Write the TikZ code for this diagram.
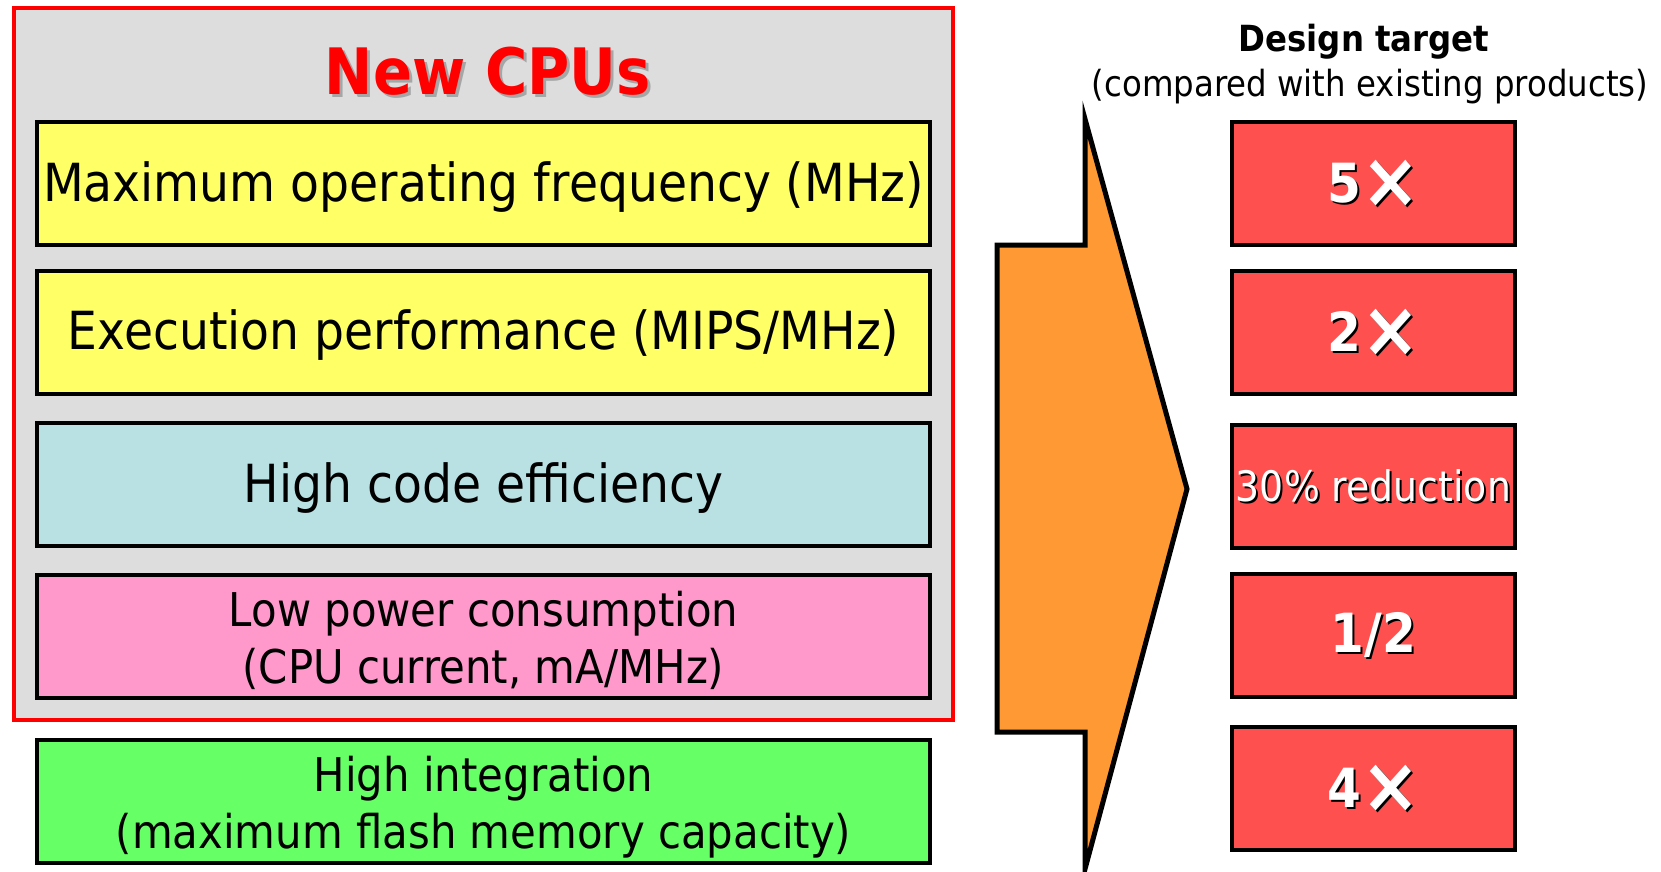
\documentclass[tikz,border=0pt]{standalone}
\usepackage{fontspec}
\setmainfont{DejaVu Sans}[FakeStretch=0.9]
\definecolor{cyel}{HTML}{FFFF66}
\definecolor{cblu}{HTML}{B9E1E3}
\definecolor{cpnk}{HTML}{FF99CC}
\definecolor{cgrn}{HTML}{66FF66}
\definecolor{cred}{HTML}{FF5050}
\definecolor{cgry}{HTML}{DDDDDD}
\definecolor{corg}{HTML}{FF9933}
\newcommand\bigx{\raisebox{-5pt}{\fontsize{78}{78}\selectfont ×}}
\tikzset{
  featbox/.style={draw=black, line width=4pt, minimum width=893pt, minimum height=123pt, inner sep=0pt},
  feattext/.style={align=center, inner sep=0pt, font=\fontsize{52.5}{58}\selectfont},
  feattwo/.style={align=center, inner sep=0pt, font=\fontsize{46.5}{57}\selectfont},
  tgtbox/.style={draw=black, line width=4pt, fill=cred, minimum width=283pt, minimum height=123pt, inner sep=0pt},
  tgttext/.style={font=\bfseries\fontsize{54}{60}\selectfont, inner sep=0pt},
  tgtsmall/.style={font=\fontsize{42}{48}\selectfont, inner sep=0pt},
}
\begin{document}
\begin{tikzpicture}[x=1pt,y=-1pt]
\useasboundingbox (0,0) rectangle (1661,871);
% outer frame
\node[draw=red, line width=4pt, fill=cgry, minimum width=939pt, minimum height=712pt, inner sep=0pt] (frame) at (483.5,364) {};
\node[text=gray!70, font=\bfseries\fontsize{64}{76}\selectfont] (titlesh) at (491,74) {New CPUs};
\node[text=red, font=\bfseries\fontsize{64}{76}\selectfont] (title) at (488,71) {New CPUs};
% feature boxes
\node[featbox, fill=cyel] (f1) at (483.5,183.5) {};
\node[featbox, fill=cyel] (f2) at (483.5,332.5) {};
\node[featbox, fill=cblu] (f3) at (483.5,484) {};
\node[featbox, fill=cpnk] (f4) at (483.5,636.5) {};
\node[featbox, fill=cgrn] (f5) at (483.5,801) {};
\node[feattext] (f1t) at ([yshift=-4pt]f1.center) {Maximum operating frequency (MHz)};
\node[feattext] (f2t) at ([yshift=-3pt]f2.center) {Execution performance (MIPS/MHz)};
\node[feattext] (f3t) at ([yshift=-4pt]f3.center) {High code efficiency};
\node[feattwo] (f4t) at ([yshift=-4pt]f4.center) {Low power consumption\\(CPU current, mA/MHz)};
\node[feattwo] (f5t) at ([yshift=-6pt]f5.center) {High integration\\(maximum flash memory capacity)};
% arrow
\draw[line width=5pt, fill=corg, line join=miter] (997,245) -- (1085,245) -- (1085,119) -- (1187,489) -- (1085,869) -- (1085,732) -- (997,732) -- cycle;
% heading
\node[font=\bfseries\fontsize{36}{43}\selectfont] (dt) at (1364,42) {Design target};
\node[font=\fontsize{36}{43}\selectfont] (cmp) at (1370,87) {(compared with existing products)};
% target boxes
\node[tgtbox] (t1) at (1373.5,183.5) {};
\node[tgtbox] (t2) at (1373.5,332.5) {};
\node[tgtbox] (t3) at (1373.5,486) {};
\node[tgtbox] (t4) at (1373.5,635) {};
\node[tgtbox] (t5) at (1373.5,788.5) {};
\node[tgttext, text=black] (s1) at ([shift={(2,2)}]t1) {5\bigx};
\node[tgttext, text=white] (l1) at (t1) {5\bigx};
\node[tgttext, text=black] (s2) at ([shift={(2,2)}]t2) {2\bigx};
\node[tgttext, text=white] (l2) at (t2) {2\bigx};
\node[tgtsmall, text=black] (s3) at ([shift={(2,2)}]t3) {30\% reduction};
\node[tgtsmall, text=white] (l3) at (t3) {30\% reduction};
\node[tgttext, text=black] (s4) at ([shift={(2,2)}]t4) {1/2};
\node[tgttext, text=white] (l4) at (t4) {1/2};
\node[tgttext, text=black] (s5) at ([shift={(2,2)}]t5) {4\bigx};
\node[tgttext, text=white] (l5) at (t5) {4\bigx};
\end{tikzpicture}
\end{document}
